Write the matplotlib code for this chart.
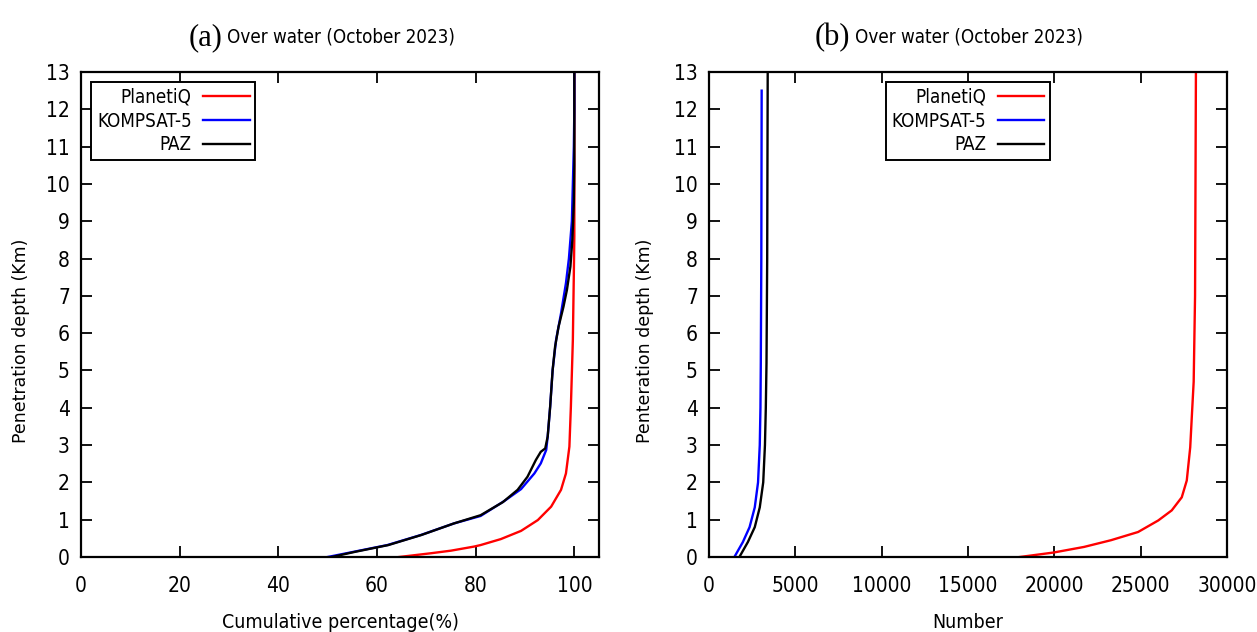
import matplotlib
matplotlib.use("Agg")
import matplotlib.pyplot as plt
from matplotlib.ticker import MultipleLocator

plt.rcParams['font.family'] = ['DejaVu Sans']
plt.rcParams['font.stretch'] = 'condensed'

# ---- Panel (a): cumulative percentage vs depth ----
pq_pct_a = [64.5, 70.9, 75.0, 79.7, 81.0, 85.1, 89.2, 92.6, 95.3, 97.3, 98.3, 99.0, 99.3, 99.7, 99.9, 100, 100]
pq_depth_a = [0, 0.1, 0.17, 0.28, 0.32, 0.48, 0.70, 0.99, 1.35, 1.80, 2.24, 2.96, 4.03, 5.82, 7.6, 8.6, 13]

k5_pct_a = [50.0, 55.3, 62.1, 68.9, 75.6, 81.0, 85.8, 89.2, 91.9, 93.2, 94.3, 94.6, 95.1, 95.6, 96.3, 97.3, 98.3,
            98.9, 99.5, 99.7, 99.9, 100, 100]
k5_depth_a = [0, 0.14, 0.32, 0.59, 0.9, 1.1, 1.5, 1.82, 2.24, 2.51, 2.87, 3.23, 4.03, 5.01, 5.82, 6.53, 7.34,
              8.0, 9.0, 10.0, 11.0, 12.0, 13.0]

paz_pct_a = [50.8, 55.6, 62.3, 69.0, 75.6, 81.0, 85.5, 88.5, 90.5, 92.2, 93.2, 94.1, 94.6, 95.1, 95.6, 96.1, 96.8,
             97.8, 98.5, 99.2, 99.6, 99.9, 100, 100]
paz_depth_a = [0, 0.14, 0.32, 0.59, 0.9, 1.12, 1.47, 1.80, 2.15, 2.60, 2.82, 2.91, 3.23, 4.03, 5.01, 5.64, 6.17,
               6.71, 7.16, 7.78, 8.5, 9.5, 10.5, 13]

# ---- Panel (b): number vs depth ----
pq_num_b = [18000, 19960, 21720, 23280, 24850, 26020, 26800, 27380, 27670, 27870, 27970, 28070, 28150, 28200]
pq_depth_b = [0, 0.12, 0.27, 0.45, 0.67, 0.98, 1.25, 1.6, 2.05, 2.94, 3.83, 4.7, 7, 13]

k5_num_b = [1470, 1960, 2350, 2650, 2840, 2940, 2980, 3000, 3030, 3050]
k5_depth_b = [0, 0.4, 0.8, 1.33, 2, 3, 4, 5.2, 8, 12.5]

paz_num_b = [1760, 2250, 2650, 2940, 3140, 3240, 3290, 3330, 3370, 3400]
paz_depth_b = [0, 0.4, 0.8, 1.33, 2, 3, 4, 5.2, 8, 13]

labels = ['PlanetiQ', 'KOMPSAT-5', 'PAZ']
colors = ['#ff0000', '#0000ff', '#000000']

W, H = 1257, 632
fig = plt.figure(figsize=(W / 100, H / 100), dpi=100)
ax1 = fig.add_axes([81 / W, 1 - 557 / H, 518 / W, 485 / H])
ax2 = fig.add_axes([709 / W, 1 - 557 / H, 518 / W, 485 / H])


def style(ax):
    for s in ax.spines.values():
        s.set_linewidth(1.6)
    ax.tick_params(direction='in', length=8, width=1.3, top=True, right=True,
                   labelsize=15, pad=8)
    ax.tick_params(axis='x', pad=14)
    ax.yaxis.set_major_locator(MultipleLocator(1))
    ax.set_ylim(0, 13)


def right_align_legend(leg):
    for col in leg._legend_handle_box.get_children():
        col.align = 'right'
    leg.get_frame().set_linewidth(1.4)
    leg.get_frame().set_edgecolor('black')


leg_kw = dict(markerfirst=False, fontsize=13.5, fancybox=False, framealpha=1,
              borderaxespad=0.55, handlelength=2.5, handletextpad=0.6,
              labelspacing=0.25, borderpad=0.3)

# Panel (a)
for d, x, lab, c in zip([pq_depth_a, k5_depth_a, paz_depth_a],
                        [pq_pct_a, k5_pct_a, paz_pct_a], labels, colors):
    ax1.plot(x, d, color=c, lw=1.7, label=lab)
style(ax1)
ax1.set_xlim(0, 105)
ax1.xaxis.set_major_locator(MultipleLocator(20))
ax1.set_xlabel('Cumulative percentage(%)', fontsize=14, labelpad=12)
ax1.set_ylabel('Penetration depth (Km)', fontsize=12.5, fontstretch='normal')
ax1.yaxis.set_label_coords(-0.098, 0.445)
leg1 = ax1.legend(loc='upper left', **leg_kw)
right_align_legend(leg1)

# Panel (b)
for d, x, lab, c in zip([pq_depth_b, k5_depth_b, paz_depth_b],
                        [pq_num_b, k5_num_b, paz_num_b], labels, colors):
    ax2.plot(x, d, color=c, lw=1.7, label=lab)
style(ax2)
ax2.set_xlim(0, 30000)
ax2.xaxis.set_major_locator(MultipleLocator(5000))
ax2.set_xlabel('Number', fontsize=14, labelpad=12)
ax2.set_ylabel('Penteration depth (Km)', fontsize=12.5, fontstretch='normal')
ax2.yaxis.set_label_coords(-0.106, 0.445)
leg2 = ax2.legend(loc='upper center', **leg_kw)
right_align_legend(leg2)

# Titles
fig.text(222 / W, 1 - 38 / H, '(a)', family='Liberation Serif', fontsize=22,
         ha='right', va='center', fontstretch='normal')
fig.text(227 / W, 1 - 37 / H, 'Over water (October 2023)', fontsize=13.5,
         ha='left', va='center')
fig.text(850 / W, 1 - 38 / H, '(b)', family='Liberation Serif', fontsize=22,
         ha='right', va='center', fontstretch='normal')
fig.text(855 / W, 1 - 37 / H, 'Over water (October 2023)', fontsize=13.5,
         ha='left', va='center')

fig.savefig('out.png', dpi=100)
